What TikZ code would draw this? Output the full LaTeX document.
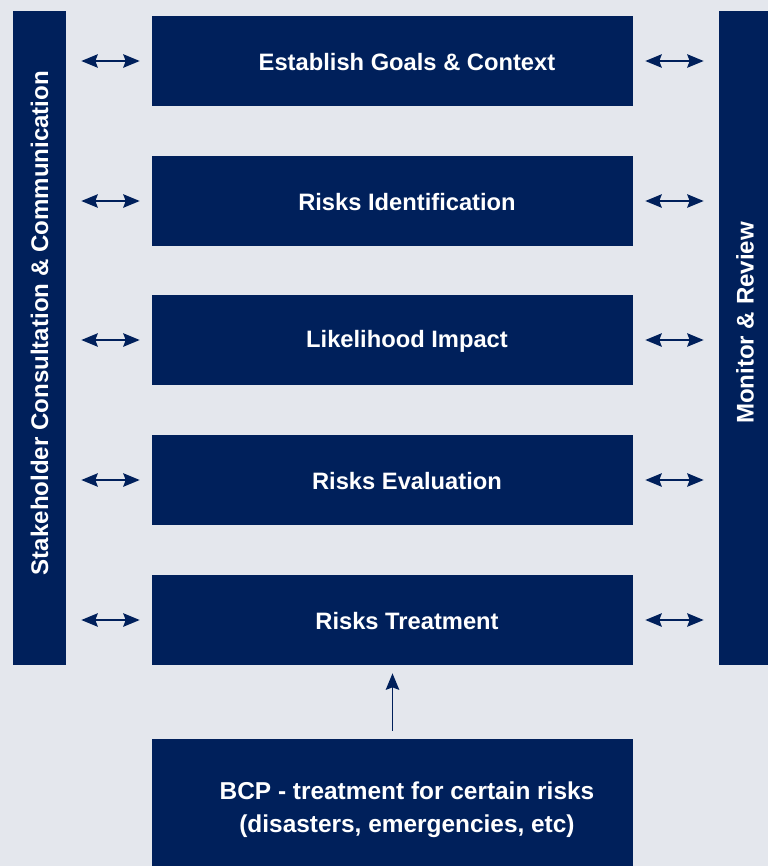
\documentclass[tikz,border=0pt]{standalone}
\usepackage{fontspec}
\setmainfont{Liberation Sans}
\usetikzlibrary{arrows.meta}

\definecolor{navy}{HTML}{00205B}
\definecolor{paper}{HTML}{E4E7ED}

\tikzset{
  stagebox/.style={fill=navy, inner sep=0pt, minimum width=9.62cm, minimum height=1.8cm},
  sidebar/.style={fill=navy, inner sep=0pt, minimum height=13.08cm},
  stagetext/.style={text=white, font=\bfseries\fontsize{13.5}{18.8}\selectfont, align=center},
  sidetext/.style={stagetext, font=\bfseries\fontsize{13.7}{16}\selectfont, rotate=90},
  link/.style={navy, line width=0.9pt, >={Stealth[length=3.3mm,width=2.7mm,inset=0.5mm]}}
}

\begin{document}
\begin{tikzpicture}[x=0.02cm,y=-0.02cm]

\fill[paper] (0,0) rectangle (768,866);

% side bars
\node[sidebar, minimum width=1.06cm] (L) at (39.5,338) {};
\node[sidebar, minimum width=0.98cm] (R) at (743.5,338) {};
\node[sidetext] at (39.5,323) {Stakeholder Consultation \& Communication};
\node[sidetext] at (745,323) {Monitor \& Review};

% process steps
\node[stagebox] (S1) at (392.5,61) {};
\node[stagebox] (S2) at (392.5,201) {};
\node[stagebox] (S3) at (392.5,340) {};
\node[stagebox] (S4) at (392.5,480) {};
\node[stagebox] (S5) at (392.5,620) {};
\node[stagebox, minimum height=2.54cm] (BCP) at (392.5,802.5) {};

\node[stagetext] at ([xshift=0.29cm,yshift=-0.03cm]S1.center) {Establish Goals \& Context};
\node[stagetext] at ([xshift=0.29cm,yshift=-0.03cm]S2.center) {Risks Identification};
\node[stagetext] at ([xshift=0.29cm,yshift=-0.03cm]S3.center) {Likelihood Impact};
\node[stagetext] at ([xshift=0.29cm,yshift=-0.03cm]S4.center) {Risks Evaluation};
\node[stagetext] at ([xshift=0.29cm,yshift=-0.03cm]S5.center) {Risks Treatment};
\node[stagetext, font=\bfseries\fontsize{13.9}{18.8}\selectfont] at ([xshift=0.29cm,yshift=-0.15cm]BCP.center) {BCP - treatment for certain risks\\(disasters, emergencies, etc)};

% links to the bars
\foreach \s in {S1,S2,S3,S4,S5} {
  \draw[link, <->, shorten <=0.3cm, shorten >=0.24cm] (L.east |- \s.west) -- (\s.west);
  \draw[link, <->, shorten <=0.24cm, shorten >=0.3cm] (\s.east) -- (R.west |- \s.east);
}

\draw[link, ->, shorten <=0.16cm, shorten >=0.16cm] (BCP.north) -- (S5.south);

\end{tikzpicture}
\end{document}
